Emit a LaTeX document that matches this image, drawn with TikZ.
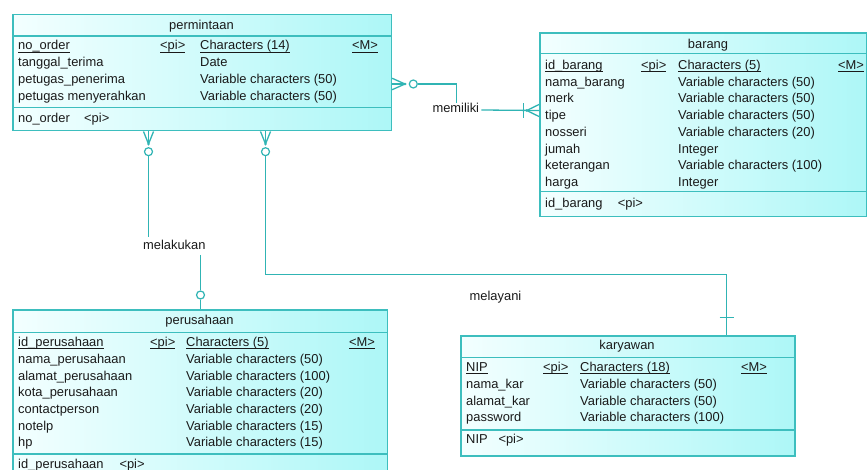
\documentclass[tikz,border=0pt]{standalone}
\usepackage{fontspec}
\setmainfont{Liberation Sans}
\definecolor{bord}{HTML}{3DBEBE}
\definecolor{lnk}{HTML}{30B4B4}
\definecolor{fillL}{HTML}{F3FFFF}
\definecolor{fillR}{HTML}{ADF7F7}
\definecolor{ink}{HTML}{1A1A1A}
\newcommand\ermfont{\fontsize{12.9}{15}\selectfont}
% underline placed where the underscore glyph sits
\newcommand\ul[1]{\setbox0\hbox{#1}\rlap{\rule[-2.6pt]{\wd0}{0.9pt}}\box0}
\tikzset{
  ent/.style={rectangle, draw=bord, line width=1.5pt, left color=fillL, right color=fillR,
              inner sep=0pt, anchor=north west},
  sepline/.style={draw=bord, line width=1.5pt},
  conn/.style={draw=lnk, line width=1.3pt},
  txt/.style={anchor=base west, inner sep=0pt, font=\ermfont, text=ink},
  ttl/.style={anchor=base, inner sep=0pt, font=\ermfont, text=ink},
  lbl/.style={anchor=base, inner sep=2pt, font=\ermfont, text=ink, text height=9.4pt, text depth=0pt},
  ring/.style={draw=lnk, line width=1.2pt, fill=white, circle, minimum size=8pt, inner sep=0pt},
}
\begin{document}
\begin{tikzpicture}[x=1pt,y=-1pt]
\clip (0,0) rectangle (867,470);
\fill[white] (0,0) rectangle (867,470);

% ---------------- permintaan ----------------
\node[ent, minimum width=378.4pt, minimum height=116pt] (perm) at (12.3,14) {};
\draw[sepline] (perm.west |- 0,36) -- (perm.east |- 0,36);
\draw[sepline] (perm.west |- 0,107.7) -- (perm.east |- 0,107.7);
\node[ttl] (perm-t) at (201.5,29.3) {permintaan};
\node[txt] (perm-k)  at (18,50)  {\ul{no\_order}};
\node[txt] (perm-kp) at (160,50) {\ul{<pi>}};
\node[txt] (perm-kt) at (200,50) {\ul{Characters (14)}};
\node[txt] (perm-km) at (352,50) {\ul{<M>}};
\foreach \a/\b [count=\i] in {tanggal\_terima/Date,
    petugas\_penerima/Variable characters (50),
    petugas menyerahkan/Variable characters (50)} {
  \node[txt] (perm-a\i) at (18,{50+16.9*\i}) {\a};
  \node[txt] (perm-b\i) at (200,{50+16.9*\i}) {\b};
}
\node[txt] (perm-i)  at (18,122.3) {no\_order};
\node[txt] (perm-ip) at (84,122.3) {<pi>};

% ---------------- barang ----------------
\node[ent, minimum width=327pt, minimum height=183.4pt] (barang) at (539,32.3) {};
\draw[sepline] (barang.west |- 0,53.3) -- (barang.east |- 0,53.3);
\draw[sepline] (barang.west |- 0,191.7) -- (barang.east |- 0,191.7);
\node[ttl] (barang-t) at (708,48.3) {barang};
\node[txt] (barang-k)  at (545,69.3) {\ul{id\_barang}};
\node[txt] (barang-kp) at (641,69.3) {\ul{<pi>}};
\node[txt] (barang-kt) at (678,69.3) {\ul{Characters (5)}};
\node[txt] (barang-km) at (838,69.3) {\ul{<M>}};
\foreach \a/\b [count=\i] in {nama\_barang/Variable characters (50),
    merk/Variable characters (50), tipe/Variable characters (50),
    nosseri/Variable characters (20), jumah/Integer,
    keterangan/Variable characters (100), harga/Integer} {
  \node[txt] (barang-a\i) at (545,{69.3+16.77*\i}) {\a};
  \node[txt] (barang-b\i) at (678,{69.3+16.77*\i}) {\b};
}
\node[txt] (barang-i)  at (545,207.7)   {id\_barang};
\node[txt] (barang-ip) at (617.7,207.7) {<pi>};

% ---------------- perusahaan ----------------
\node[ent, minimum width=374.4pt, minimum height=180pt] (perus) at (12.3,309) {};
\draw[sepline] (perus.west |- 0,332.3) -- (perus.east |- 0,332.3);
\draw[sepline] (perus.west |- 0,454) -- (perus.east |- 0,454);
\node[ttl] (perus-t) at (199.5,324) {perusahaan};
\node[txt] (perus-k)  at (18,346.7)  {\ul{id\_perusahaan}};
\node[txt] (perus-kp) at (150,346.7) {\ul{<pi>}};
\node[txt] (perus-kt) at (186,346.7) {\ul{Characters (5)}};
\node[txt] (perus-km) at (349,346.7) {\ul{<M>}};
\foreach \a/\b [count=\i] in {nama\_perusahaan/Variable characters (50),
    alamat\_perusahaan/Variable characters (100),
    kota\_perusahaan/Variable characters (20),
    contactperson/Variable characters (20),
    notelp/Variable characters (15), hp/Variable characters (15)} {
  \node[txt] (perus-a\i) at (18,{346.7+16.67*\i}) {\a};
  \node[txt] (perus-b\i) at (186,{346.7+16.67*\i}) {\b};
}
\node[txt] (perus-i)  at (18,468.3)    {id\_perusahaan};
\node[txt] (perus-ip) at (119.3,468.3) {<pi>};

% ---------------- karyawan ----------------
\node[ent, minimum width=334.3pt, minimum height=120pt] (kary) at (460,335) {};
\draw[sepline] (kary.west |- 0,357.7) -- (kary.east |- 0,357.7);
\draw[sepline] (kary.west |- 0,430) -- (kary.east |- 0,430);
\node[ttl] (kary-t) at (627,349) {karyawan};
\node[txt] (kary-k)  at (466,371.7) {\ul{NIP}};
\node[txt] (kary-kp) at (543,371.7) {\ul{<pi>}};
\node[txt] (kary-kt) at (580,371.7) {\ul{Characters (18)}};
\node[txt] (kary-km) at (741,371.7) {\ul{<M>}};
\foreach \a/\b [count=\i] in {nama\_kar/Variable characters (50),
    alamat\_kar/Variable characters (50),
    password/Variable characters (100)} {
  \node[txt] (kary-a\i) at (466,{371.7+16.67*\i}) {\a};
  \node[txt] (kary-b\i) at (580,{371.7+16.67*\i}) {\b};
}
\node[txt] (kary-i)  at (466,443.3)   {NIP};
\node[txt] (kary-ip) at (498.3,443.3) {<pi>};

% ---------------- relationship labels ----------------
\node[lbl] (memiliki)  at (455.8,112.7) {memiliki};
\node[lbl] (melakukan) at (174.3,250)   {melakukan};
\node[lbl] (melayani)  at (495.5,301)   {melayani};

% ---------------- memiliki: permintaan >o----|< barang ----------------
\coordinate (m1) at (perm.east |- 0,84);
\coordinate (m1c) at (405,84);
\node[ring] (m1r) at (413.3,84) {};
\draw[conn] (m1 |- 0,78.3) -- (m1c) -- (m1 |- 0,89.7);
\draw[conn] (m1) -- (m1c);
\fill[lnk] (m1c) circle (1.4pt);
\draw[conn] (m1r) -- (456.5,84) -- ([yshift=-1.5pt]memiliki.north -| 456.5,0);
\coordinate (m2) at (barang.west |- 0,110.5);
\coordinate (m2c) at (526.7,110.5);
\draw[conn] ([yshift=-2pt]memiliki.east) -- (m2);
\draw[conn] (m2 |- 0,104.5) -- (m2c) -- (m2 |- 0,116.5);
\draw[conn] (523.5,103.3) -- (523.5,117.7);
\fill[lnk] (m2c) circle (1.4pt);

% ---------------- melakukan: permintaan >o---o perusahaan ----------------
\coordinate (k1) at (perm.south -| 148.5,0);
\coordinate (k1c) at (148.5,144);
\node[ring] (k1r) at (148.5,151.7) {};
\draw[conn] (k1 -| 143.5,0) -- (k1c) -- (k1 -| 153.5,0);
\draw[conn] (k1) -- (k1c);
\fill[lnk] (k1c) circle (1.4pt);
\draw[conn] (k1r) -- (148.5,236.7);
\node[ring] (k2r) at (200.5,295) {};
\draw[conn] (200.5,255) -- (k2r) -- (perus.north -| 200.5,0);

% ---------------- melayani: permintaan >o----+ karyawan ----------------
\coordinate (y1) at (perm.south -| 265.5,0);
\coordinate (y1c) at (265.5,144);
\node[ring] (y1r) at (265.5,151.7) {};
\draw[conn] (y1 -| 260.5,0) -- (y1c) -- (y1 -| 270.5,0);
\draw[conn] (y1) -- (y1c);
\fill[lnk] (y1c) circle (1.4pt);
\coordinate (y2) at (kary.north -| 726.5,0);
\draw[conn] (y1r) -- (265.5,274.5) -- (726.5,274.5) -- (y2);
\draw[conn] (719.5,317.5) -- (733.5,317.5);
\end{tikzpicture}
\end{document}
